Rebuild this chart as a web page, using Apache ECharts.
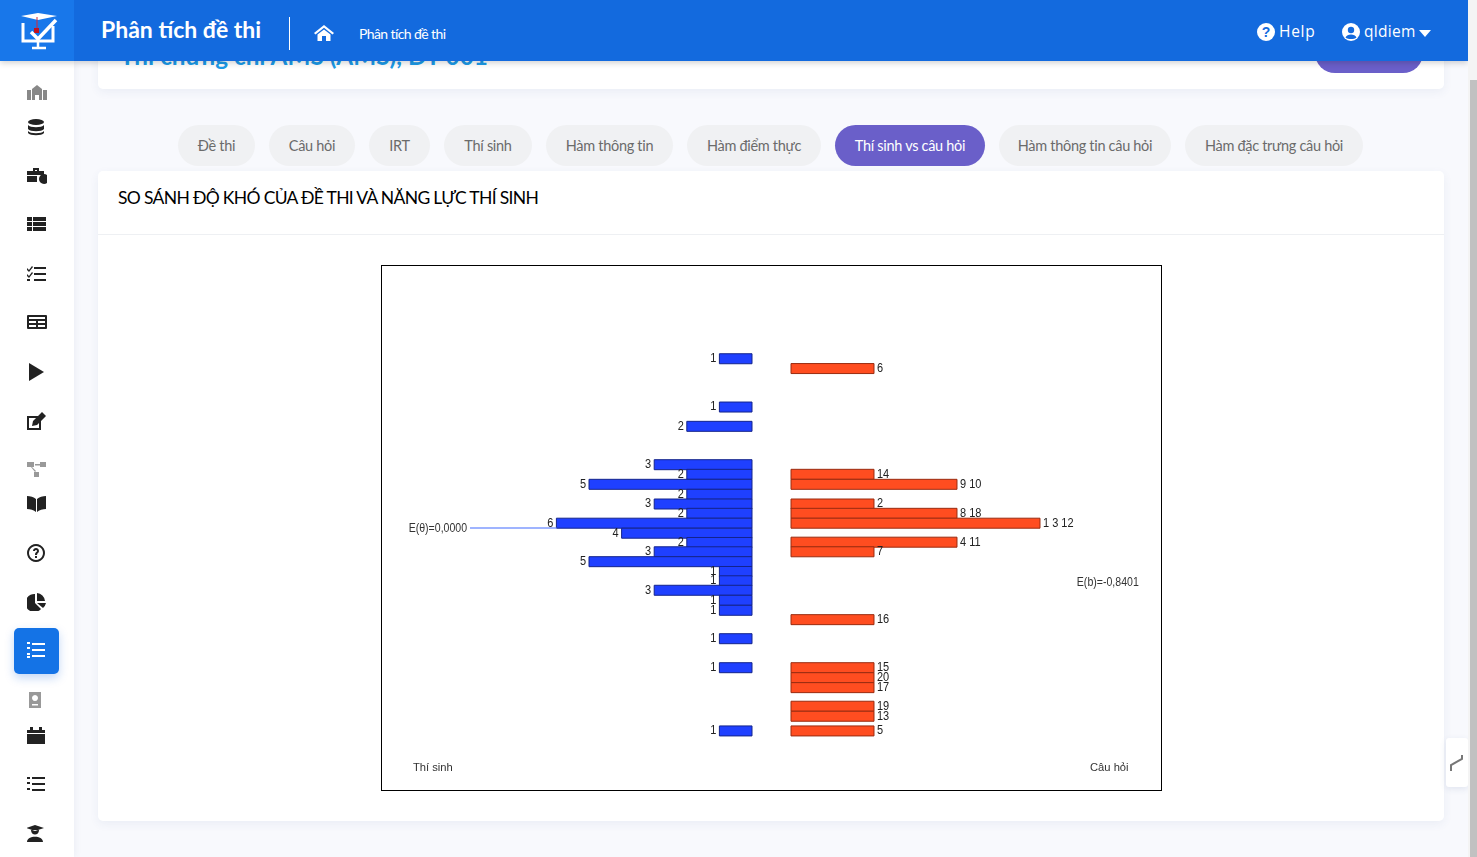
<!DOCTYPE html>
<html lang="vi">
<head>
    <meta charset="UTF-8">
    <title>Phân tích đề thi</title>
    <script src="https://cdn.jsdelivr.net/npm/echarts@6/dist/echarts.min.js"></script>
    <style>
        html, body { margin: 0; height: 100%; overflow: hidden; }
        body { background: #f8f9fd; font-family: Lato, "Noto Sans", sans-serif; position: relative; width: 1477px; height: 857px; }
        .abs { position: absolute; }
        .header { left: 0; top: 0; width: 1468px; height: 61px; background: #136ade; box-shadow: 0 2px 6px rgba(0,0,0,.18); z-index: 5; color: #fff; }
        .logo { left: 0; top: 0; width: 74px; height: 61px; background: #1877ea; }
        .sidebar { left: 0; top: 61px; width: 74px; height: 796px; background: #fff; box-shadow: 2px 0 6px rgba(60,80,140,.06); z-index: 3; }
        .card { background: #fff; border-radius: 5px; box-shadow: 0 3px 10px rgba(60,80,140,.07); }
        .tab { top: 125px; height: 41px; line-height: 41px; border-radius: 21px; background: #f0f1f3; color: #6b6b6b; font-size: 14.5px; text-align: center; letter-spacing: -.3px; }
        .tab.active { background: #6a5fc9; color: #fff; }
        .scroll { left: 1468px; top: 0; width: 9px; height: 857px; background: #f4f4f4; z-index: 6; }
        .thumb { left: 1469.5px; top: 80px; width: 7.5px; height: 777px; background: #c1c1c1; z-index: 7; }
        #chart { left: 382px; top: 266px; width: 779px; height: 524px; }
        .frame { left: 381px; top: 265px; width: 779px; height: 524px; border: 1px solid #000; }
        svg { display: block; }
    </style>
</head>
<body>
    <div class="abs card" style="left:98px;top:20px;width:1346px;height:69px;overflow:hidden">
        <div class="abs" style="left:22px;top:21px;font-size:24.3px;font-weight:700;color:#1c9be8;white-space:nowrap">Thi chứng chỉ AMS (AMS), ĐT 001</div>
        <div class="abs" style="left:1217px;top:13px;width:108px;height:40px;border-radius:20px;background:#6a5fc9"></div>
    </div>

    <div class="abs header">
        <div class="abs logo">
            <svg class="abs" style="left:20px;top:12px" width="38" height="38" viewBox="0 0 38 38" fill="none">
                <path d="M1 4 L18 1 L37 4 L18 8 Z" fill="#fff"/>
                <path d="M3 11 V29 H33 V14" stroke="#fff" stroke-width="3"/>
                <path d="M17 5 V18" stroke="#d12b3a" stroke-width="1"/>
                <rect x="14" y="16" width="5" height="5" fill="#c1121f"/>
                <path d="M11 20 L18 27 L36 8" stroke="#fff" stroke-width="3.5"/>
                <path d="M12 36 H26 M18 30 V36" stroke="#fff" stroke-width="2.5"/>
            </svg>
        </div>
        <div class="abs" style="left:101px;top:15px;font-size:23px;font-weight:700;white-space:nowrap">Phân tích đề thi</div>
        <div class="abs" style="left:289px;top:17px;width:1px;height:33px;background:#fff"></div>
        <svg class="abs" style="left:314px;top:25px" width="20" height="16" viewBox="0 0 20 16" fill="#fff">
            <path d="M10 0 L20 8 L18.5 9.5 L10 2.8 L1.5 9.5 L0 8 Z"/><path d="M3.5 9.5 L10 4.5 L16.5 9.500 V16 H12 V11 H8 V16 H3.5 Z"/>
        </svg>
        <div class="abs" style="left:359px;top:25px;font-size:14px;white-space:nowrap;letter-spacing:-.6px">Phân tích đề thi</div>
        <svg class="abs" style="left:1257px;top:23px" width="18" height="18" viewBox="0 0 18 18">
            <circle cx="9" cy="9" r="9" fill="#fff"/><text x="9" y="14" font-size="14" font-weight="700" text-anchor="middle" fill="#136ade" font-family="Liberation Sans">?</text>
        </svg>
        <div class="abs" style="left:1279px;top:20px;font:15.5px 'Open Sans';letter-spacing:.7px">Help</div>
        <svg class="abs" style="left:1342px;top:23px" width="18" height="18" viewBox="0 0 18 18">
            <circle cx="9" cy="9" r="9" fill="#fff"/><circle cx="9" cy="7" r="3.2" fill="#136ade"/><path d="M3.5 14.500 C5 10.500 13 10.500 14.500 14.500 C12 16.500 6 16.500 3.500 14.500 Z" fill="#136ade"/>
        </svg>
        <div class="abs" style="left:1364px;top:20px;font:15.5px 'Open Sans';letter-spacing:.3px">qldiem</div>
        <svg class="abs" style="left:1419px;top:30px" width="12" height="7" viewBox="0 0 12 7" fill="#fff"><path d="M0 0 H12 L6 7 Z"/></svg>
    </div>

    <div class="abs sidebar" id="sidebar"></div>
    <div class="abs" style="left:14px;top:628px;width:45px;height:46px;border-radius:5px;background:#1473e6;box-shadow:0 4px 10px rgba(20,100,220,.25);z-index:3"></div>

    <div class="abs card" style="left:98px;top:171px;width:1346px;height:650px"></div>
    <div class="abs" style="left:118px;top:187px;font-size:17.5px;color:#000;white-space:nowrap;letter-spacing:-.67px">SO SÁNH ĐỘ KHÓ CỦA ĐỀ THI VÀ NĂNG LỰC THÍ SINH</div>
    <div class="abs" style="left:98px;top:234px;width:1346px;height:1px;background:#eef0f3"></div>

    <div class="abs" id="chart"></div>
    <div class="abs frame"></div>

    <div class="abs" style="left:1446px;top:738px;width:22px;height:49px;background:#fff;border-radius:3px;box-shadow:0 2px 6px rgba(60,80,140,.12)">
        <svg class="abs" style="left:4px;top:16px" width="14" height="18" viewBox="0 0 14 18" fill="none"><path d="M1 17 V11 L12 5 V1" stroke="#777" stroke-width="2"/></svg>
    </div>
    <div class="abs scroll"></div>
    <div class="abs thumb"></div>

    <script>
        // thí sinh (trái): mức năng lực và số thí sinh
        const studentLevels = [2.639, 1.886, 1.585, 0.987, 0.837, 0.681, 0.525, 0.374, 0.229, 0.075, -0.081, -0.226, -0.371, -0.525, -0.678, -0.823, -0.971, -1.127, -1.283, -1.726, -2.178, -3.164];
        const studentCounts = [1, 1, 2, 3, 2, 5, 2, 3, 2, 6, 4, 2, 3, 5, 1, 1, 3, 1, 1, 1, 1, 1];

        // câu hỏi (phải): độ khó, số câu và số thứ tự câu
        const itemLevels = [2.486, 0.837, 0.681, 0.374, 0.229, 0.075, -0.221, -0.371, -1.429, -2.178, -2.334, -2.489, -2.779, -2.935, -3.164];
        const itemCounts = [1, 1, 2, 1, 2, 3, 2, 1, 1, 1, 1, 1, 1, 1, 1];
        const itemLabels = ['6', '14', '9 10', '2', '8 18', '1 3 12', '4 11', '7', '16', '15', '20', '17', '19', '13', '5'];

        const meanTheta = 0;
        const meanB = -0.8401;
        const tabNames = ['Đề thi', 'Câu hỏi', 'IRT', 'Thí sinh', 'Hàm thông tin', 'Hàm điểm thực', 'Thí sinh vs câu hỏi', 'Hàm thông tin câu hỏi', 'Hàm đặc trưng câu hỏi'];
        const tabLeft = [178, 269, 369, 444, 546, 687, 835, 999, 1185];
        const tabRight = [255, 355, 430, 532, 673, 821, 985, 1171, 1363];

        const LABEL_FONT = '"Liberation Sans", Arial, sans-serif';

        tabNames.forEach((name, i) => {
            const d = document.createElement('div');
            d.className = 'abs tab' + (i === 6 ? ' active' : '');
            d.style.left = tabLeft[i] + 'px';
            d.style.width = (tabRight[i] - tabLeft[i]) + 'px';
            d.textContent = name;
            document.body.appendChild(d);
        });

        // icon menu bên trái
        const icons = [
            [93, '#888', '<path d="M0 6h4v10H0zM16 6h4v10h-4zM5 5l5-4 5 4v11h-3v-5H8v5H5z"/>'],
            [128, '#222', '<ellipse cx="9" cy="3" rx="8" ry="3"/><path d="M1 6c2 3 14 3 16 0v4c-2 3-14 3-16 0zM1 12c2 3 14 3 16 0v2c-2 3-14 3-16 0z"/>'],
            [176, '#222', '<path d="M0 4h17v4H0zM6 1h6v3h-2V3H8v1H6zM0 9h10v6H0z"/><circle cx="17" cy="12" r="5"/>'],
            [225, '#222', '<path d="M0 1h5v4H0zM6 1h13v4H6zM0 6h5v4H0zM6 6h13v4H6zM0 11h5v4H0zM6 11h13v4H6z"/>'],
            [274, '#222', '<path d="M0 3l2 2 3-4 1 1-4 5-3-3zM0 9l2 2 3-4 1 1-4 5-3-3zM7 2h12v2H7zM7 8h12v2H7zM7 14h12v2H7zM0 14h3v2H0z"/>'],
            [323, '#222', '<path d="M1 1h18a1 1 0 0 1 1 1v12a1 1 0 0 1-1 1H1a1 1 0 0 1-1-1V2a1 1 0 0 1 1-1zM2 3v2h16V3zM2 7v2h7V7zM11 7v2h7V7zM2 11v2h7v-2zM11 11v2h7v-2z"/>'],
            [372, '#222', '<path d="M2 0l15 9-15 9z"/>'],
            [421, '#222', '<path d="M0 4h11v2H2v10h10V9h2v9H0zM6 9l9-9 4 4-9 9-5 1z"/>'],
            [470, '#999', '<path d="M0 1h7v5H0zM13 1h6v5h-6zM8 3h5v1.500H8zM4 6l4 5 1-1-4-4zM7 11h5v5H7z"/>'],
            [504, '#222', '<path d="M0 1c3 0 7 1 9 3v13c-2-2-6-3-9-3zM19 1c-3 0-7 1-9 3v13c2-2 6-3 9-3z"/>'],
            [553, '#222', '<path fill-rule="evenodd" d="M9 0a9 9 0 1 0 .01 0zM9 2a7 7 0 1 1-.01 0zM6 7c0-4 6-4 6 0 0 2-2 2-2 4H8c0-3 2-3 2-4 0-1.500-2-1.500-2 0zM8 12h2v2H8z"/>'],
            [602, '#222', '<path d="M8 1v9l6 6a9 9 0 1 1-6-15zM10 0a9 9 0 0 1 8 8h-8zM10 10h9a9 9 0 0 1-3 5z"/>'],
            [651, '#fff', '<path d="M0 0h3v2H0zM0 5h3v2H0zM0 11h3v2H0zM0 14h3v2H0zM5 1h13v2H5zM5 7h13v2H5zM5 13h13v2H5z"/>'],
            [701, '#999', '<path fill-rule="evenodd" d="M2 0h12v16H2zM5 12v1.500h6V12zM8 3a3 3 0 1 0 .01 0z"/>'],
            [736, '#222', '<path d="M3 0h3v3H3zM12 0h3v3h-3zM0 3h18v3H0zM0 7h18v10H0z"/>'],
            [785, '#222', '<path d="M0 1h3v2H0zM0 6h3v2H0zM0 12h3v2H0zM5 1h13v2H5zM5 7h13v2H5zM5 13h13v2H5z"/>'],
            [834, '#222', '<path d="M8 0l9 3-9 3-9-3zM4 5c0 6 8 6 8 0zM0 17c0-7 16-7 16 0z"/>']
        ];
        icons.forEach(([y, color, path]) => {
            document.body.insertAdjacentHTML('beforeend',
                `<svg class="abs" style="left:27px;top:${y - 9}px;z-index:4" width="20" height="18" viewBox="0 0 20 18" fill="${color}">${path}</svg>`);
        });

        function renderRow(fill, stroke, labels) {
            return function (params, api) {
                const tip = api.coord([api.value(0), api.value(1)]);
                const base = api.coord([0, api.value(1)]);
                const goesLeft = tip[0] < base[0];
                return {
                    type: 'group',
                    children: [
                        {
                            type: 'rect',
                            shape: { x: Math.min(tip[0], base[0]), y: tip[1] - 5, width: Math.abs(tip[0] - base[0]), height: 10 },
                            style: { fill: fill, stroke: stroke, lineWidth: 1 }
                        },
                        {
                            type: 'text',
                            x: tip[0] + (goesLeft ? -3 : 3),
                            y: tip[1],
                            scaleX: 0.88,
                            style: {
                                text: String(labels[params.dataIndex]),
                                align: goesLeft ? 'right' : 'left',
                                verticalAlign: 'middle',
                                fontSize: 12.5,
                                fontFamily: LABEL_FONT,
                                fill: '#222'
                            }
                        }
                    ]
                };
            };
        }

        function meanLabel(text) {
            return function (params, api) {
                const p = api.coord([api.value(0), api.value(1)]);
                return {
                    type: 'text',
                    x: p[0],
                    y: p[1] + 0.5,
                    scaleX: 0.88,
                    style: { text: text, align: 'right', verticalAlign: 'middle', fontSize: 12, fontFamily: LABEL_FONT, fill: '#333' }
                };
            };
        }

        const hiddenLevel = { type: 'value', min: -4.085, max: 4.085, show: false };
        const chart = echarts.init(document.getElementById('chart'));
        chart.setOption({
            animation: false,
            backgroundColor: '#fff',
            grid: [
                { left: 0, top: 0, width: 370, height: 524 },
                { left: 409, top: 0, width: 370, height: 524 }
            ],
            xAxis: [
                { type: 'value', gridIndex: 0, inverse: true, min: 0, max: 11.35, show: false },
                { type: 'value', gridIndex: 1, min: 0, max: 4.458, show: false }
            ],
            yAxis: [
                Object.assign({ gridIndex: 0 }, hiddenLevel),
                Object.assign({ gridIndex: 1 }, hiddenLevel)
            ],
            series: [
                {
                    type: 'line',
                    xAxisIndex: 0,
                    yAxisIndex: 0,
                    symbol: 'none',
                    lineStyle: { color: '#7f9bff', width: 1.6 },
                    data: [[8.65, meanTheta], [6, meanTheta]]
                },
                {
                    type: 'custom',
                    xAxisIndex: 0,
                    yAxisIndex: 0,
                    renderItem: renderRow('#1f40ff', '#14248c', studentCounts),
                    data: studentLevels.map((v, i) => [studentCounts[i], v])
                },
                {
                    type: 'custom',
                    xAxisIndex: 1,
                    yAxisIndex: 1,
                    renderItem: renderRow('#ff4d20', '#9a2c10', itemLabels),
                    data: itemLevels.map((v, i) => [itemCounts[i], v])
                },
                {
                    type: 'custom',
                    xAxisIndex: 0,
                    yAxisIndex: 0,
                    renderItem: meanLabel('E(θ)=0,0000'),
                    data: [[8.74, meanTheta]]
                },
                {
                    type: 'custom',
                    xAxisIndex: 1,
                    yAxisIndex: 1,
                    renderItem: meanLabel('E(b)=-0,8401'),
                    data: [[4.19, meanB]]
                }
            ],
            graphic: [
                { type: 'text', left: 31, top: 496, style: { text: 'Thí sinh', fontSize: 11.2, fontFamily: LABEL_FONT, fill: '#333' } },
                { type: 'text', left: 708, top: 496, style: { text: 'Câu hỏi', fontSize: 11.2, fontFamily: LABEL_FONT, fill: '#333' } }
            ]
        });
    </script>
</body>
</html>
